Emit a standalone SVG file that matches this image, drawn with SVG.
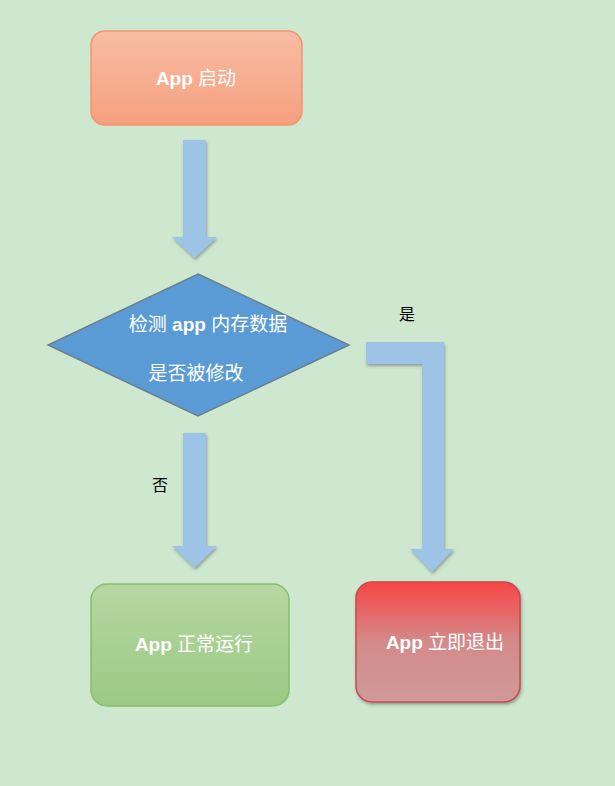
<svg xmlns="http://www.w3.org/2000/svg" width="615" height="786" viewBox="0 0 615 786">
<defs>
<linearGradient id="gO" x1="0" y1="0" x2="0" y2="1"><stop offset="0" stop-color="#f8bca3"/><stop offset="1" stop-color="#f5a07f"/></linearGradient>
<linearGradient id="gG" x1="0" y1="0" x2="0" y2="1"><stop offset="0" stop-color="#b6d7a3"/><stop offset="1" stop-color="#9cc983"/></linearGradient>
<linearGradient id="gR" x1="0" y1="0" x2="0" y2="1"><stop offset="0" stop-color="#f74545"/><stop offset="0.5" stop-color="#d48a8a"/><stop offset="1" stop-color="#cf9a98"/></linearGradient>
<filter id="sh" x="-20%" y="-20%" width="140%" height="140%"><feDropShadow dx="1" dy="2" stdDeviation="1.5" flood-color="#555" flood-opacity="0.5"/></filter>
</defs>
<style>
.t{font-family:"Liberation Sans","Noto Sans CJK SC",sans-serif;fill:#fff;font-size:19px;text-anchor:middle}
.b{font-weight:bold}
.l{font-family:"Liberation Sans","Noto Sans CJK SC",sans-serif;fill:#000;font-size:16px;text-anchor:middle}
.a{fill:#9dc3e6;filter:url(#sh)}
</style>
<rect width="615" height="786" fill="#cde8cf"/>
<g id="connectors">
<path class="a" d="M183,140H206V237H217L194.5,258L172,237H183Z"/>
<path class="a" d="M183,433H206V546H217L194.5,568L172,546H183Z"/>
<path class="a" d="M366,342H444V549H454L432,572L410,549H422V364H366Z"/>
<text class="l" x="407" y="320">是</text>
<text class="l" x="160" y="491">否</text>
</g>
<g id="start">
<rect x="91" y="31" width="211" height="94" rx="14" fill="url(#gO)" stroke="#f3946c" stroke-width="1.5"/>
<text class="t" x="196" y="85"><tspan class="b">App</tspan> 启动</text>
</g>
<g id="check">
<polygon points="198,274 349,345 198,416 48,345" fill="#5b9bd5" stroke="#6d7f8d" stroke-width="1.5"/>
<text class="t" x="208" y="331">检测 <tspan class="b">app</tspan> 内存数据</text>
<text class="t" x="196" y="380">是否被修改</text>
</g>
<g id="run">
<rect x="91" y="584" width="198" height="122" rx="16" fill="url(#gG)" stroke="#86bf67" stroke-width="1.5"/>
<text class="t" x="194" y="651"><tspan class="b">App</tspan> 正常运行</text>
</g>
<g id="exit">
<rect x="356" y="582" width="164" height="120" rx="16" fill="url(#gR)" stroke="#c84a4a" stroke-width="1.5" filter="url(#sh)"/>
<text class="t" x="445" y="649"><tspan class="b">App</tspan> 立即退出</text>
</g>
</svg>
